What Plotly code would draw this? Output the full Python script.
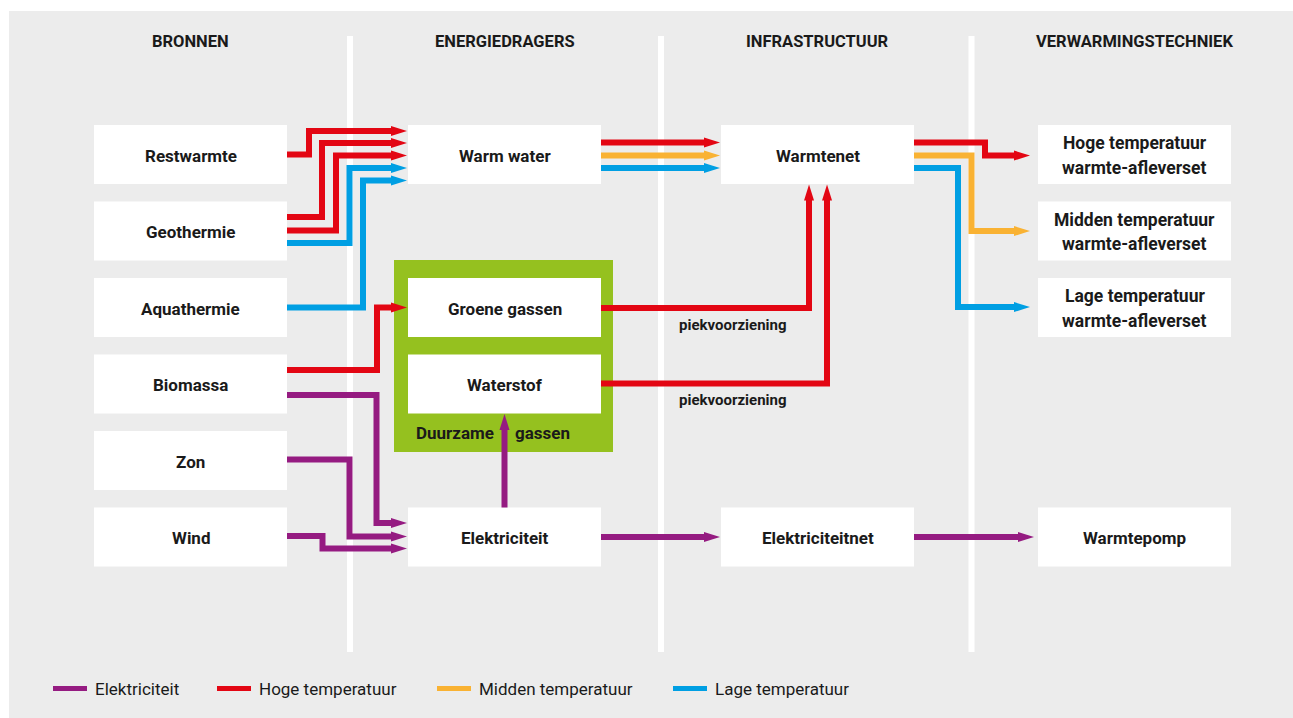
import plotly.graph_objects as go

# ---------------- DATA ----------------
columns = ["BRONNEN", "ENERGIEDRAGERS", "INFRASTRUCTUUR", "VERWARMINGSTECHNIEK"]
bronnen = ["Restwarmte", "Geothermie", "Aquathermie", "Biomassa", "Zon", "Wind"]
energiedragers = ["Warm water", "Groene gassen", "Waterstof", "Elektriciteit"]
infrastructuur = ["Warmtenet", "Elektriciteitnet"]
verwarmingstechniek = ["Hoge temperatuur<br>warmte-afleverset",
                       "Midden temperatuur<br>warmte-afleverset",
                       "Lage temperatuur<br>warmte-afleverset",
                       "Warmtepomp"]
legend_labels = ["Elektriciteit", "Hoge temperatuur", "Midden temperatuur", "Lage temperatuur"]
group_label = ["Duurzame", "gassen"]
peak_label = "piekvoorziening"

flow_from = ["Restwarmte", "Geothermie", "Geothermie", "Geothermie", "Aquathermie",
             "Biomassa", "Biomassa", "Zon", "Wind",
             "Warm water", "Warm water", "Warm water",
             "Groene gassen", "Waterstof", "Elektriciteit", "Elektriciteit",
             "Warmtenet", "Warmtenet", "Warmtenet", "Elektriciteitnet"]
flow_to = ["Warm water", "Warm water", "Warm water", "Warm water", "Warm water",
           "Groene gassen", "Elektriciteit", "Elektriciteit", "Elektriciteit",
           "Warmtenet", "Warmtenet", "Warmtenet",
           "Warmtenet", "Warmtenet", "Waterstof", "Elektriciteitnet",
           "Hoge temperatuur<br>warmte-afleverset", "Midden temperatuur<br>warmte-afleverset",
           "Lage temperatuur<br>warmte-afleverset", "Warmtepomp"]
flow_type = ["Hoge temperatuur", "Hoge temperatuur", "Hoge temperatuur", "Lage temperatuur", "Lage temperatuur",
             "Hoge temperatuur", "Elektriciteit", "Elektriciteit", "Elektriciteit",
             "Hoge temperatuur", "Midden temperatuur", "Lage temperatuur",
             "Hoge temperatuur", "Hoge temperatuur", "Elektriciteit", "Elektriciteit",
             "Hoge temperatuur", "Midden temperatuur", "Lage temperatuur", "Elektriciteit"]

# ---------------- STYLE / LAYOUT ----------------
W, H = 1293, 718
COLORS = {"Elektriciteit": "#951b81", "Hoge temperatuur": "#e30613",
          "Midden temperatuur": "#f9b233", "Lage temperatuur": "#009fe3"}
BG = "#ececec"
GREEN = "#95c11f"
TXT = "#1a1a1a"
FONT = "Roboto, Liberation Sans Narrow, sans-serif"

col_left = [94, 408, 721, 1038]
box_w = 193
row_c0, row_step, box_half = 154.5, 76.5, 29.5
col_tip_gap = [0, 1, 1, 8]
LW = 6
HEAD_L, HEAD_HW = 16, 5

node_rows = {}
for i, n in enumerate(bronnen):
    node_rows[n] = (0, i)
for n, r in zip(energiedragers, [0, 2, 3, 5]):
    node_rows[n] = (1, r)
for n, r in zip(infrastructuur, [0, 5]):
    node_rows[n] = (2, r)
for n, r in zip(verwarmingstechniek, [0, 1, 2, 5]):
    node_rows[n] = (3, r)

# routing per flow: (kind, start offset, lane x, end offset, extra tip gap)
routing = [("h3", 0, 309, -23.5, 0), ("h3", -14, 322, -11.5, 0), ("h3", -0.5, 336, 1, 0),
           ("h3", 12, 349.5, 13.5, 0), ("h3", 0, 363, 26, 0),
           ("h3", -14, 377, 0, 0), ("h3", 11, 376.5, -14, 0), ("h3", -1, 349.5, -0.5, 0),
           ("h3", -1, 322.5, 11.5, 0),
           ("h", -12, None, -12, 0), ("h", 1, None, 1, 0), ("h", 13.5, None, 13.5, 0),
           ("hv", 0.5, 809, None, 0), ("hv", -0.5, 827, None, 0), ("v", None, 504.5, None, 0),
           ("h", 0, None, 0, 0),
           ("h3", -12, 985, 1, 0), ("h3", 1, 971.5, 0, 0), ("h3", 13.5, 958, -0.5, 0),
           ("h", 0, None, 0, -4)]


def node_geom(name):
    c, r = node_rows[name]
    x0 = col_left[c]
    yc = row_c0 + row_step * r
    return c, x0, x0 + box_w, yc


fig = go.Figure()
shapes = []
annotations = []

# panel + separators
shapes.append(dict(type="rect", x0=9, x1=W, y0=11, y1=H, fillcolor=BG, line_width=0, layer="below"))
for sx in [350, 661, 971.5]:
    shapes.append(dict(type="rect", x0=sx - 3, x1=sx + 3, y0=36, y1=652,
                       fillcolor="white", line_width=0, layer="below"))

# green group
shapes.append(dict(type="rect", x0=394, x1=613, y0=260, y1=452, fillcolor=GREEN,
                   line_width=0, layer="below"))

# headers
for c, title in enumerate(columns):
    annotations.append(dict(x=col_left[c] + box_w / 2, y=41, text=f"<b>{title}</b>",
                            showarrow=False, font=dict(family=FONT, size=16.5, color=TXT),
                            xanchor="center", yanchor="middle"))

# boxes
for name in node_rows:
    c, x0, x1, yc = node_geom(name)
    shapes.append(dict(type="rect", x0=x0, x1=x1, y0=yc - box_half, y1=yc + box_half,
                       fillcolor="white", line_width=0, layer="below"))
    lines = name.split("<br>")
    n = len(lines)
    for k, line in enumerate(lines):
        yline = yc + 1 + (k - (n - 1) / 2) * 24.5
        annotations.append(dict(x=(x0 + x1) / 2, y=yline, text=f"<b>{line}</b>", showarrow=False,
                                font=dict(family=FONT, size=17.5 if n > 1 else 17, color=TXT),
                                xanchor="center", yanchor="middle"))


def head(tx, ty, direction, color):
    if direction == "right":
        p = f"M{tx},{ty} L{tx - HEAD_L},{ty - HEAD_HW} L{tx - HEAD_L},{ty + HEAD_HW} Z"
    else:
        p = f"M{tx},{ty} L{tx - HEAD_HW},{ty + HEAD_L} L{tx + HEAD_HW},{ty + HEAD_L} Z"
    shapes.append(dict(type="path", path=p, fillcolor=color, line_width=0, layer="above"))


for src, dst, typ, (kind, sdy, lane, edy, xgap) in zip(flow_from, flow_to, flow_type, routing):
    color = COLORS[typ]
    sc, sx0, sx1, syc = node_geom(src)
    dc, dx0, dx1, dyc = node_geom(dst)
    if kind in ("h3", "h"):
        tip = dx0 - col_tip_gap[dc] - xgap
        ys, ye = syc + sdy, dyc + edy
        if kind == "h3":
            xs = [sx1, lane, lane, tip - HEAD_L + 1]
            yy = [ys, ys, ye, ye]
        else:
            xs = [sx1, tip - HEAD_L + 1]
            yy = [ys, ye]
        head(tip, ye, "right", color)
    elif kind == "hv":
        ys = syc + sdy
        tip = dyc + box_half + 0.5
        xs = [sx1, lane, lane]
        yy = [ys, ys, tip + HEAD_L - 1]
        head(lane, tip, "up", color)
    else:  # vertical up
        tip = dyc + box_half + 0.5
        xs = [lane, lane]
        yy = [syc - box_half, tip + HEAD_L - 1]
        head(lane, tip, "up", color)
    fig.add_trace(go.Scatter(x=xs, y=yy, mode="lines", line=dict(color=color, width=LW),
                             hoverinfo="skip", showlegend=False, cliponaxis=False))

# group label
annotations.append(dict(x=496, y=433, text=f"<b>{group_label[0]}</b>", showarrow=False,
                        font=dict(family=FONT, size=17, color=TXT), xanchor="right", yanchor="middle"))
annotations.append(dict(x=513, y=433, text=f"<b>{group_label[1]}</b>", showarrow=False,
                        font=dict(family=FONT, size=17, color=TXT), xanchor="left", yanchor="middle"))

# peak labels
for yv in [325, 400]:
    annotations.append(dict(x=733, y=yv, text=f"<b>{peak_label}</b>", showarrow=False,
                            font=dict(family=FONT, size=15, color=TXT), xanchor="center", yanchor="middle"))

# legend
leg_x = [53, 217, 437, 673]
for lx, lab in zip(leg_x, legend_labels):
    shapes.append(dict(type="rect", x0=lx, x1=lx + 34, y0=686, y1=691,
                       fillcolor=COLORS[lab], line_width=0, layer="above"))
    annotations.append(dict(x=lx + 40, y=689, text=lab, showarrow=False,
                            font=dict(family=FONT, size=17, color=TXT), xanchor="left", yanchor="middle"))

fig.update_layout(
    width=W, height=H, autosize=False,
    margin=dict(l=0, r=0, t=0, b=0),
    paper_bgcolor="white", plot_bgcolor="white",
    xaxis=dict(range=[0, W], visible=False, fixedrange=True),
    yaxis=dict(range=[H, 0], visible=False, fixedrange=True),
    shapes=shapes, annotations=annotations,
)

fig.write_html("out.html", config={"displayModeBar": False},
               post_script="document.body.style.margin='0';document.body.style.padding='0';")
